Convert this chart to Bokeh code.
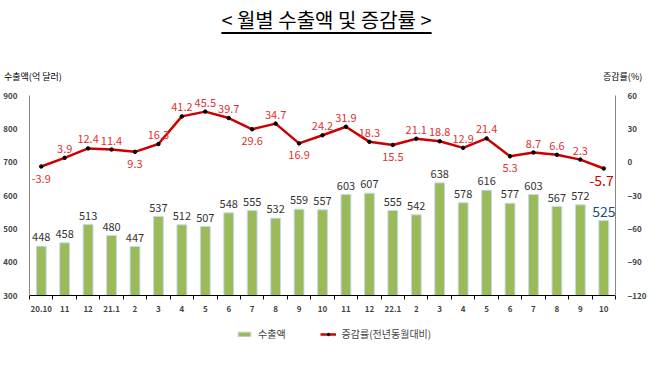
from bokeh.plotting import figure
from bokeh.models import (ColumnDataSource, Range1d, LinearAxis, FixedTicker,
                          Legend, LegendItem, Div)
from bokeh.layouts import column
from bokeh.core.properties import value
from bokeh.embed import file_html
from bokeh.resources import INLINE

months = ["20.10", "11", "12", "21.1", "2", "3", "4", "5", "6", "7", "8", "9", "10",
          "11", "12", "22.1", "2", "3", "4", "5", "6", "7", "8", "9", "10"]
exports = [448, 458, 513, 480, 447, 537, 512, 507, 548, 555, 532, 559, 557,
           603, 607, 555, 542, 638, 578, 616, 577, 603, 567, 572, 525]
growth = [-3.9, 3.9, 12.4, 11.4, 9.3, 16.3, 41.2, 45.5, 39.7, 29.6, 34.7, 16.9, 24.2,
          31.9, 18.3, 15.5, 21.1, 18.8, 12.9, 21.4, 5.3, 8.7, 6.6, 2.3, -5.7]
growth_label_side = ["b", "a", "a", "a", "b", "a", "a", "a", "a", "b", "a", "b", "a",
                     "a", "a", "b", "a", "a", "a", "a", "b", "a", "a", "a", "b"]
left_ticks = [300, 400, 500, 600, 700, 800, 900]
right_ticks = [-120, -90, -60, -30, 0, 30, 60]

FONT = "Noto Sans CJK KR"
BAR_FILL = "#9bbb59"
BAR_LINE = "#c6d9f1"
LINE_COLOR = "#cc0000"
n = len(months)
xs = list(range(n))

title = Div(text='<div style="width:653px;text-align:center;font-family:\'Noto Sans CJK KR\';'
                 'font-size:20px;line-height:28px;padding-top:6px;color:#000;">'
                 '<span style="text-decoration:underline;text-underline-offset:4px;">'
                 '&lt; 월별 수출액 및 증감률 &gt;</span></div>',
            width=653, height=68, margin=(0, 0, 0, 0))

axis_titles = Div(text='<div style="position:relative;width:653px;height:18px;'
                       'font-family:\'Noto Sans CJK KR\';font-size:9px;line-height:18px;color:#000;">'
                       '<span style="position:absolute;left:4px;top:0;">수출액(억 달러)</span>'
                       '<span style="position:absolute;left:603px;top:0;">증감률(%)</span></div>',
                  width=653, height=18, margin=(0, 0, 0, 0))

p = figure(width=653, height=232, output_backend="svg", toolbar_location=None,
           x_range=Range1d(-0.5, n - 0.5), y_range=Range1d(300, 900),
           min_border_left=27, min_border_right=38, min_border_top=9, min_border_bottom=23)
p.outline_line_color = None
p.xgrid.grid_line_color = None
p.ygrid.grid_line_color = None

p.extra_y_ranges = {"pct": Range1d(-120, 60)}

# x axis
xa = p.xaxis[0]
xa.ticker = FixedTicker(ticks=xs, minor_ticks=[i + 0.5 for i in range(-1, n)])
xa.major_label_overrides = {i: m for i, m in enumerate(months)}
xa.major_tick_line_color = None
xa.minor_tick_out = 4
xa.minor_tick_in = 0
xa.minor_tick_line_color = "#000000"
xa.axis_line_color = "#000000"
xa.major_label_text_font = FONT
xa.major_label_text_font_size = "8px"
xa.major_label_text_font_style = "bold"
xa.major_label_standoff = 4

# left axis
ya = p.yaxis[0]
ya.ticker = FixedTicker(ticks=left_ticks)
ya.major_tick_line_color = None
ya.minor_tick_line_color = None
ya.axis_line_color = "#888888"
ya.major_label_text_font = FONT
ya.major_label_text_font_size = "8px"
ya.major_label_text_font_style = "bold"
ya.major_label_standoff = 6

# right axis
ra = LinearAxis(y_range_name="pct", ticker=FixedTicker(ticks=right_ticks))
ra.major_tick_line_color = None
ra.minor_tick_line_color = None
ra.axis_line_color = "#888888"
ra.major_label_text_font = FONT
ra.major_label_text_font_size = "8px"
ra.major_label_text_font_style = "bold"
ra.major_label_standoff = 6
p.add_layout(ra, "right")

src = ColumnDataSource(dict(x=xs, exp=exports, g=growth))

p.vbar(x="x", top="exp", bottom=300, width=0.42, source=src,
       fill_color=BAR_FILL, line_color=BAR_LINE, line_width=1)

# bar labels (last one highlighted)
last = n - 1
bsrc = ColumnDataSource(dict(x=xs[:last], y=exports[:last],
                             t=[str(v) for v in exports[:last]]))
p.text(x="x", y="y", text="t", source=bsrc, text_align="center", text_baseline="bottom",
       y_offset=-5, text_font=value(FONT), text_font_size="11px", text_color="#333333")
p.text(x=[xs[last]], y=[exports[last]], text=[str(exports[last])], text_align="center",
       text_baseline="bottom", y_offset=-4, text_font=value(FONT), text_font_size="14px",
       text_color="#1f4e79")

p.line(x="x", y="g", source=src, y_range_name="pct", line_color=LINE_COLOR, line_width=2.5)
p.scatter(x="x", y="g", source=src, y_range_name="pct", size=3.5,
          fill_color="#000000", line_color="#000000")

ab_x = [x for x, s in zip(xs[:last], growth_label_side[:last]) if s == "a"]
ab_y = [g for g, s in zip(growth[:last], growth_label_side[:last]) if s == "a"]
be_x = [x for x, s in zip(xs[:last], growth_label_side[:last]) if s == "b"]
be_y = [g for g, s in zip(growth[:last], growth_label_side[:last]) if s == "b"]
p.text(x=ab_x, y=ab_y, text=[("%.1f" % v) for v in ab_y], y_range_name="pct",
       text_align="center", text_baseline="bottom", y_offset=-5,
       text_font=value(FONT), text_font_size="11px", text_color="#e03030")
p.text(x=be_x, y=be_y, text=[("%.1f" % v) for v in be_y], y_range_name="pct",
       text_align="center", text_baseline="top", y_offset=8,
       text_font=value(FONT), text_font_size="11px", text_color="#e03030")
p.text(x=[xs[last]], y=[growth[last]], text=["%.1f" % growth[last]],
       y_range_name="pct", text_align="right", text_baseline="top", y_offset=6, x_offset=10,
       text_font=value(FONT), text_font_size="14px", text_color="#cc0000")

# legend in its own strip; its renderers reuse the chart's data source, placed out of view
lg = figure(width=653, height=26, output_backend="svg", toolbar_location=None,
            x_range=Range1d(1000, 1001), y_range=Range1d(1000, 1001),
            min_border_left=0, min_border_right=0, min_border_top=0, min_border_bottom=0)
lg.axis.visible = False
lg.grid.visible = False
lg.outline_line_color = None
r_bar = lg.quad(left="x", right="x", bottom="g", top="exp", source=src,
                fill_color=BAR_FILL, line_color=BAR_LINE)
r_line = lg.line(x="x", y="g", source=src, line_color=LINE_COLOR, line_width=2.5)
r_dot = lg.scatter(x="x", y="g", source=src, size=3.5, fill_color="#000000",
                   line_color="#000000")
legend = Legend(items=[LegendItem(label="수출액", renderers=[r_bar]),
                       LegendItem(label="증감률(전년동월대비)", renderers=[r_line, r_dot])],
                orientation="horizontal", location=(207, 3), border_line_color=None,
                background_fill_alpha=0,
                label_text_font=FONT, label_text_font_size="10px", spacing=34,
                glyph_width=16, glyph_height=6, label_standoff=6, padding=0, margin=0)
lg.add_layout(legend)

layout = column(title, axis_titles, p, lg, spacing=0)
open("out.html", "w").write(file_html(layout, INLINE))
